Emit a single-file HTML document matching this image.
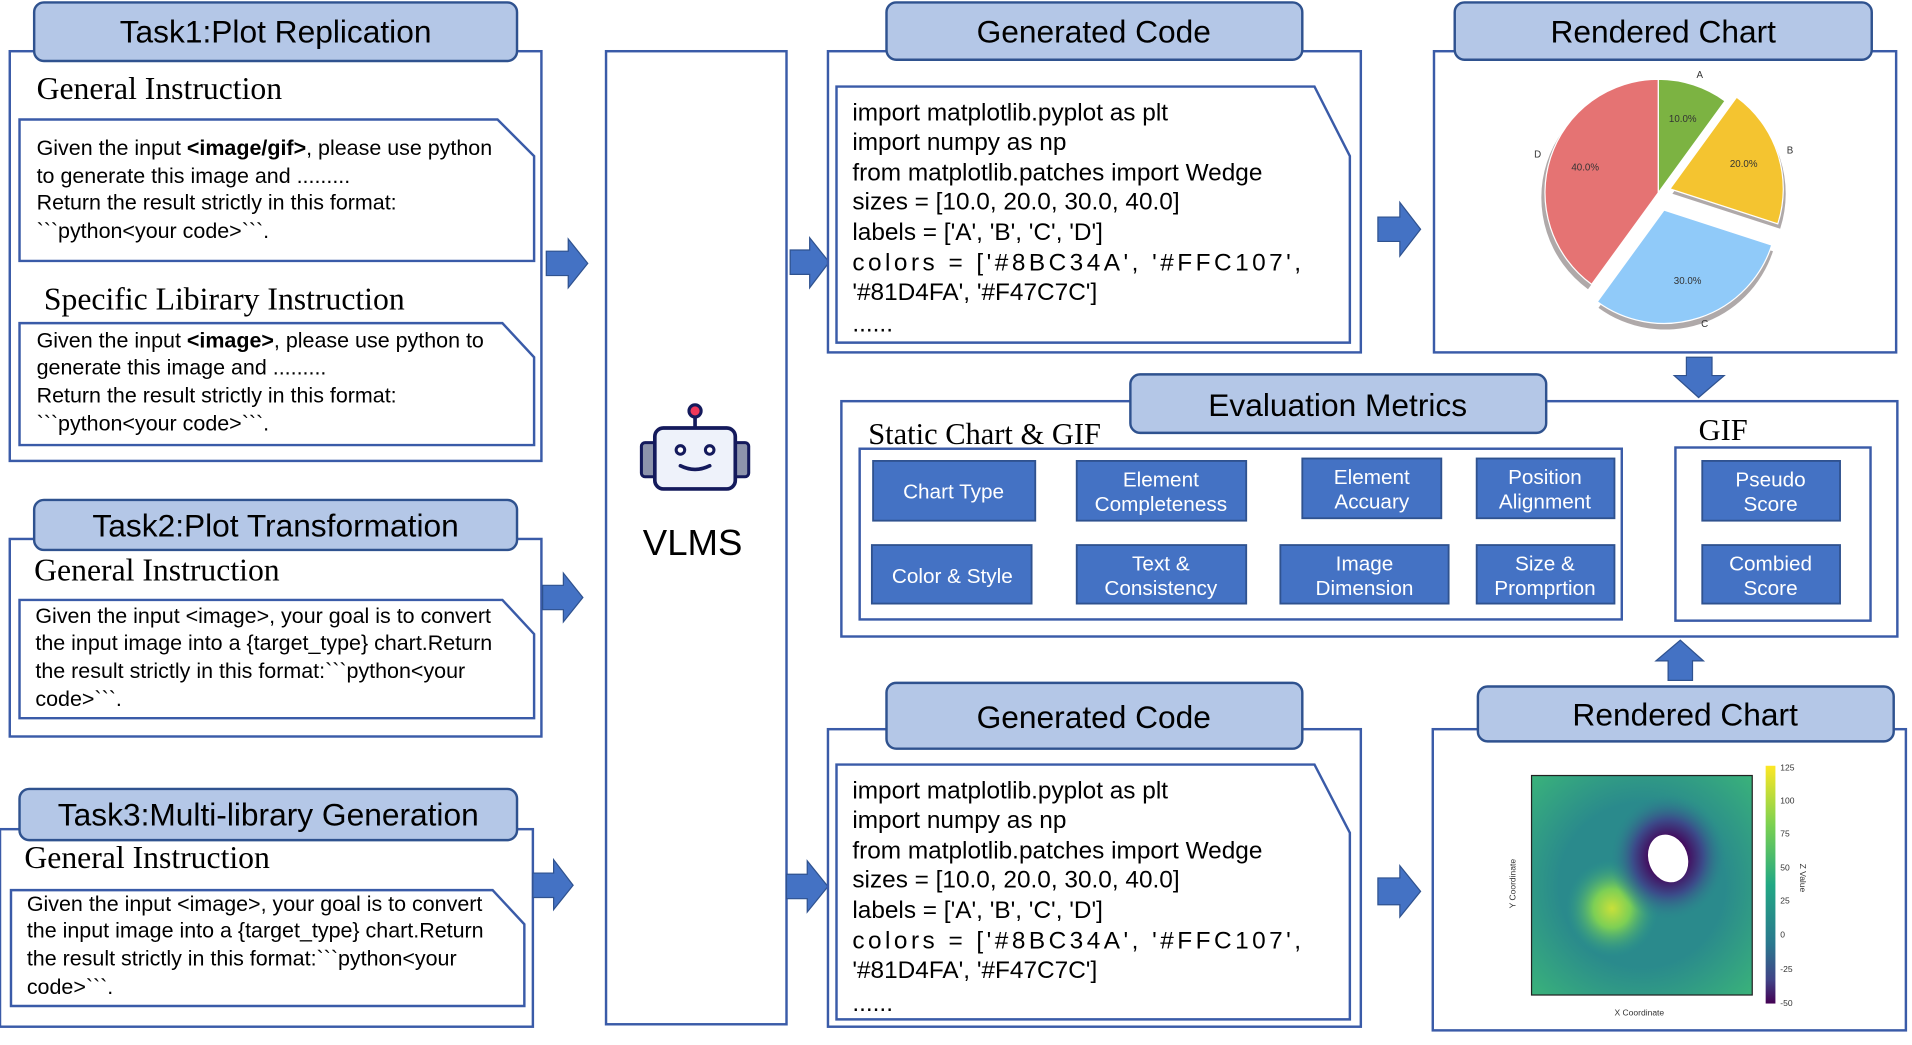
<!DOCTYPE html>
<html><head><meta charset="utf-8"><style>
html,body{margin:0;padding:0;background:#fff;overflow:hidden}
svg{display:block}
.h{font-family:"Liberation Sans",Arial,sans-serif;font-size:26px;fill:#000;text-anchor:middle}
.s{font-family:"Liberation Serif","Times New Roman",serif;font-size:26px;fill:#000}
.t{font-family:"Liberation Sans",Arial,sans-serif;font-size:17.6px;fill:#000}
.c{font-family:"Liberation Sans",Arial,sans-serif;font-size:20px;fill:#000}
.b{font-family:"Liberation Sans",Arial,sans-serif;font-size:17px;fill:#fff;text-anchor:middle}
.ol{fill:#fff;stroke:#3a5ba8;stroke-width:2}
.hd{fill:#b4c7e7;stroke:#2f528f;stroke-width:2}
.ar{fill:#4472c4;stroke:#2f528f;stroke-width:1}
.bt{fill:#4472c4;stroke:#2f528f;stroke-width:1.5}
</style></head><body>
<svg width="1912" height="1045" viewBox="0 0 1568 857" xmlns="http://www.w3.org/2000/svg">
<defs>
<radialGradient id="yb" cx="0.5" cy="0.5" r="0.5"><stop offset="0" stop-color="#c8e03a"/><stop offset="0.4" stop-color="#7ccf55"/><stop offset="1" stop-color="#2a9b8a" stop-opacity="0"/></radialGradient>
<radialGradient id="pb" cx="0.5" cy="0.5" r="0.5"><stop offset="0.3" stop-color="#44065a"/><stop offset="0.6" stop-color="#3b4c8a"/><stop offset="1" stop-color="#2a8a8c" stop-opacity="0"/></radialGradient>
<radialGradient id="bg" cx="0.5" cy="0.5" r="0.75"><stop offset="0.5" stop-color="#2a8a8c"/><stop offset="1" stop-color="#3cb878"/></radialGradient>
<linearGradient id="cb" x1="0" y1="0" x2="0" y2="1"><stop offset="0" stop-color="#fde725"/><stop offset="0.25" stop-color="#7ad151"/><stop offset="0.5" stop-color="#22a884"/><stop offset="0.75" stop-color="#2a788e"/><stop offset="0.9" stop-color="#414487"/><stop offset="1" stop-color="#440154"/></linearGradient>
</defs>

<!-- Task1 -->
<rect class="ol" x="8" y="42" width="436" height="336"/>
<rect class="hd" x="28" y="2" width="396" height="48" rx="8"/>
<text class="h" x="226" y="35">Task1:Plot Replication</text>
<text class="s" x="30" y="81">General Instruction</text>
<path class="ol" d="M16 98 H408 L438 128 V214 H16 Z"/>
<text class="t" x="30" y="127">Given the input <tspan font-weight="bold">&lt;image/gif&gt;</tspan>, please use python</text>
<text class="t" x="30" y="150">to generate this image and .........</text>
<text class="t" x="30" y="172">Return the result strictly in this format:</text>
<text class="t" x="30" y="195">&#96;&#96;&#96;python&lt;your code&gt;&#96;&#96;&#96;.</text>
<text class="s" x="36" y="254">Specific Libirary Instruction</text>
<path class="ol" d="M16 265 H412 L438 293 V365 H16 Z"/>
<text class="t" x="30" y="285">Given the input <tspan font-weight="bold">&lt;image&gt;</tspan>, please use python to</text>
<text class="t" x="30" y="307">generate this image and .........</text>
<text class="t" x="30" y="330">Return the result strictly in this format:</text>
<text class="t" x="30" y="353">&#96;&#96;&#96;python&lt;your code&gt;&#96;&#96;&#96;.</text>

<!-- Task2 -->
<rect class="ol" x="8" y="442" width="436" height="162"/>
<rect class="hd" x="28" y="410" width="396" height="41" rx="8"/>
<text class="h" x="226" y="440">Task2:Plot Transformation</text>
<text class="s" x="28" y="476">General Instruction</text>
<path class="ol" d="M16 492 H412 L438 520 V589 H16 Z"/>
<text class="t" x="29" y="511">Given the input &lt;image&gt;, your goal is to convert</text>
<text class="t" x="29" y="533">the input image into a {target_type} chart.Return</text>
<text class="t" x="29" y="556">the result strictly in this format:&#96;&#96;&#96;python&lt;your</text>
<text class="t" x="29" y="579">code&gt;&#96;&#96;&#96;.</text>

<!-- Task3 -->
<rect class="ol" x="0" y="680" width="437" height="162"/>
<rect class="hd" x="16" y="647" width="408" height="42" rx="8"/>
<text class="h" x="220" y="677">Task3:Multi-library Generation</text>
<text class="s" x="20" y="712">General Instruction</text>
<path class="ol" d="M9 730 H404 L430 758 V825 H9 Z"/>
<text class="t" x="22" y="747">Given the input &lt;image&gt;, your goal is to convert</text>
<text class="t" x="22" y="769">the input image into a {target_type} chart.Return</text>
<text class="t" x="22" y="792">the result strictly in this format:&#96;&#96;&#96;python&lt;your</text>
<text class="t" x="22" y="815">code&gt;&#96;&#96;&#96;.</text>

<!-- arrows left -->
<path class="ar" d="M448 206 H466 V196 L482 216 L466 236 V226 H448 Z"/>
<path class="ar" d="M445 480 H462 V470 L478 490 L462 510 V500 H445 Z"/>
<path class="ar" d="M437 716 H454 V705 L470 726 L454 746 V736 H437 Z"/>

<!-- VLMS -->
<rect class="ol" x="497" y="42" width="148" height="798"/>
<line x1="570" y1="340" x2="570" y2="351" stroke="#141a5c" stroke-width="3"/>
<circle cx="570" cy="337" r="5" fill="#f0385a" stroke="#141a5c" stroke-width="2.5"/>
<rect x="526" y="363" width="14" height="28" rx="3" fill="#8d94ac" stroke="#141a5c" stroke-width="2.5"/>
<rect x="600" y="363" width="14" height="28" rx="3" fill="#8d94ac" stroke="#141a5c" stroke-width="2.5"/>
<rect x="537" y="351" width="66" height="50" rx="7" fill="#eef2fa" stroke="#141a5c" stroke-width="3"/>
<circle cx="558" cy="369" r="3.5" fill="#fff" stroke="#141a5c" stroke-width="2.5"/>
<circle cx="582" cy="369" r="3.5" fill="#fff" stroke="#141a5c" stroke-width="2.5"/>
<path d="M558 382 Q570 388 582 382" fill="none" stroke="#141a5c" stroke-width="3" stroke-linecap="round"/>
<text class="h" x="568" y="455" style="font-size:30px">VLMS</text>

<path class="ar" d="M648 205 H664 V195 L680 215 L664 236 V225 H648 Z"/>
<path class="ar" d="M645 717 H662 V706 L679 727 L662 748 V737 H645 Z"/>

<!-- Generated code top -->
<rect class="ol" x="679" y="42" width="437" height="247"/>
<rect class="hd" x="727" y="2" width="341" height="47" rx="8"/>
<text class="h" x="897" y="35">Generated Code</text>
<path class="ol" d="M686 71 H1078 L1107 128 V281 H686 Z"/>
<g class="c">
<text x="699" y="99">import matplotlib.pyplot as plt</text>
<text x="699" y="123">import numpy as np</text>
<text x="699" y="148">from matplotlib.patches import Wedge</text>
<text x="699" y="172">sizes = [10.0, 20.0, 30.0, 40.0]</text>
<text x="699" y="197">labels = ['A', 'B', 'C', 'D']</text>
<text x="699" y="222" textLength="368" lengthAdjust="spacing">colors = ['#8BC34A', '#FFC107',</text>
<text x="699" y="246">'#81D4FA', '#F47C7C']</text>
<text x="699" y="272">......</text>
</g>
<path class="ar" d="M1130 178 H1148 V166 L1165 188 L1148 210 V198 H1130 Z"/>

<!-- Rendered chart top -->
<rect class="ol" x="1176" y="42" width="379" height="247"/>
<rect class="hd" x="1193" y="2" width="342" height="47" rx="8"/>
<text class="h" x="1364" y="35">Rendered Chart</text>
<g fill="#9c9494" opacity="0.8">
<path transform="translate(-3,4)" d="M1360 158 L1305.3 233.2 A93 93 0 0 1 1360 65 Z"/>
<path transform="translate(1,5)" d="M1364.6 172.3 L1453 201 A93 93 0 0 1 1309.9 247.5 Z"/>
<path transform="translate(2,4)" d="M1369.5 154.9 L1424.2 79.7 A93 93 0 0 1 1457.9 183.6 Z"/>
</g>
<path d="M1360 158 L1305.3 233.2 A93 93 0 0 1 1360 65 Z" fill="#e57373" stroke="#fff" stroke-width="1"/>
<path d="M1360 158 L1360 65 A93 93 0 0 1 1414.7 82.8 Z" fill="#7cb342" stroke="#fff" stroke-width="1"/>
<path d="M1369.5 154.9 L1424.2 79.7 A93 93 0 0 1 1457.9 183.6 Z" fill="#f4c430" stroke="#fff" stroke-width="1"/>
<path d="M1364.6 172.3 L1453 201 A93 93 0 0 1 1309.9 247.5 Z" fill="#90caf9" stroke="#fff" stroke-width="1"/>
<g font-family="Liberation Sans,sans-serif" font-size="8" fill="#333" text-anchor="middle">
<text x="1380" y="100">10.0%</text><text x="1430" y="137">20.0%</text><text x="1384" y="233">30.0%</text><text x="1300" y="140">40.0%</text>
<text x="1394" y="64">A</text><text x="1468" y="126">B</text><text x="1398" y="268">C</text><text x="1261" y="129">D</text>
</g>
<path class="ar" d="M1383 293 H1404 V308 H1414 L1393 326 L1373 308 H1383 Z"/>

<!-- Evaluation metrics -->
<rect class="ol" x="690" y="329" width="866" height="193"/>
<rect class="hd" x="927" y="307" width="341" height="48" rx="8"/>
<text class="h" x="1097" y="341">Evaluation Metrics</text>
<text class="s" x="712" y="364" style="font-size:25px">Static Chart &amp; GIF</text>
<rect class="ol" x="705" y="368" width="625" height="140"/>
<text class="s" x="1393" y="361" style="font-size:25px">GIF</text>
<rect class="ol" x="1374" y="367" width="160" height="142"/>
<rect class="bt" x="716" y="378" width="133" height="49"/><text class="b" x="782" y="409">Chart Type</text>
<rect class="bt" x="883" y="378" width="139" height="49"/><text class="b" x="952" y="399">Element</text><text class="b" x="952" y="419">Completeness</text>
<rect class="bt" x="1068" y="376" width="114" height="49"/><text class="b" x="1125" y="397">Element</text><text class="b" x="1125" y="417">Accuary</text>
<rect class="bt" x="1211" y="376" width="113" height="49"/><text class="b" x="1267" y="397">Position</text><text class="b" x="1267" y="417">Alignment</text>
<rect class="bt" x="715" y="447" width="131" height="48"/><text class="b" x="781" y="478">Color &amp; Style</text>
<rect class="bt" x="883" y="447" width="139" height="48"/><text class="b" x="952" y="468">Text &amp;</text><text class="b" x="952" y="488">Consistency</text>
<rect class="bt" x="1050" y="447" width="138" height="48"/><text class="b" x="1119" y="468">Image</text><text class="b" x="1119" y="488">Dimension</text>
<rect class="bt" x="1211" y="447" width="113" height="48"/><text class="b" x="1267" y="468">Size &amp;</text><text class="b" x="1267" y="488">Promprtion</text>
<rect class="bt" x="1396" y="378" width="113" height="49"/><text class="b" x="1452" y="399">Pseudo</text><text class="b" x="1452" y="419">Score</text>
<rect class="bt" x="1396" y="447" width="113" height="48"/><text class="b" x="1452" y="468">Combied</text><text class="b" x="1452" y="488">Score</text>
<path class="ar" d="M1368 558 H1388 V542 H1397 L1378 525 L1358 542 H1368 Z"/>

<!-- Generated code bottom -->
<rect class="ol" x="679" y="598" width="437" height="244"/>
<rect class="hd" x="727" y="560" width="341" height="54" rx="8"/>
<text class="h" x="897" y="597">Generated Code</text>
<path class="ol" d="M686 627 H1078 L1107 683 V836 H686 Z"/>
<g class="c">
<text x="699" y="655">import matplotlib.pyplot as plt</text>
<text x="699" y="679">import numpy as np</text>
<text x="699" y="704">from matplotlib.patches import Wedge</text>
<text x="699" y="728">sizes = [10.0, 20.0, 30.0, 40.0]</text>
<text x="699" y="753">labels = ['A', 'B', 'C', 'D']</text>
<text x="699" y="778" textLength="368" lengthAdjust="spacing">colors = ['#8BC34A', '#FFC107',</text>
<text x="699" y="802">'#81D4FA', '#F47C7C']</text>
<text x="699" y="829">......</text>
</g>
<path class="ar" d="M1130 720 H1148 V710 L1165 731 L1148 752 V742 H1130 Z"/>

<!-- Rendered chart bottom -->
<rect class="ol" x="1175" y="598" width="388" height="247"/>
<rect class="hd" x="1212" y="563" width="341" height="45" rx="8"/>
<text class="h" x="1382" y="595">Rendered Chart</text>
<rect x="1256" y="636" width="181" height="180" fill="url(#bg)" stroke="#222" stroke-width="1"/>
<ellipse cx="1322" cy="745" rx="38" ry="40" fill="url(#yb)"/>
<ellipse cx="1368" cy="703" rx="48" ry="52" fill="url(#pb)"/>
<ellipse cx="1368" cy="704" rx="16" ry="20" fill="#fff" transform="rotate(-20 1368 704)"/>
<rect x="1448" y="628" width="8" height="195" fill="url(#cb)"/>
<g font-family="Liberation Sans,sans-serif" font-size="7" fill="#333">
<text x="1460" y="632">125</text><text x="1460" y="659">100</text><text x="1460" y="686">75</text><text x="1460" y="714">50</text><text x="1460" y="741">25</text><text x="1460" y="769">0</text><text x="1460" y="797">-25</text><text x="1460" y="825">-50</text>
<text x="1324" y="833">X Coordinate</text>
<text x="1243" y="745" transform="rotate(-90 1243 745)">Y Coordinate</text>
<text x="1476" y="720" text-anchor="middle" transform="rotate(90 1476 720)">Z Value</text>
</g>
</svg>
</body></html>
